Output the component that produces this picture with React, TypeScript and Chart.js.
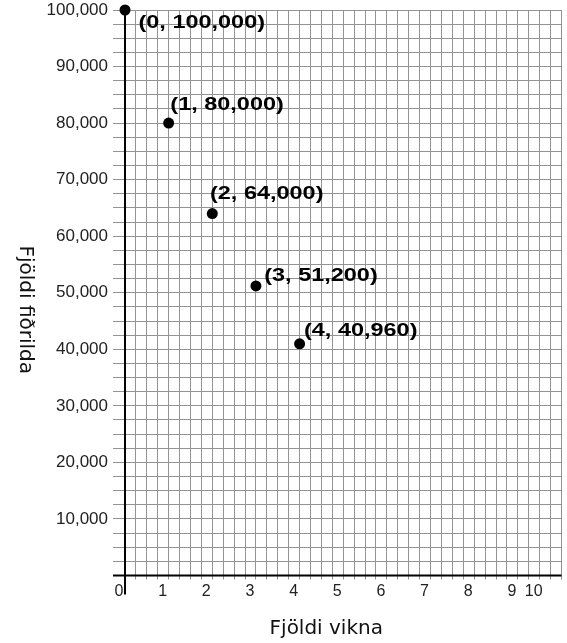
import { useEffect, useRef } from 'react';
import { Chart, registerables } from 'chart.js';

Chart.register(...registerables);

// ---- data ----
const weeks = [0, 1, 2, 3, 4];
const butterflies = [100000, 80000, 64000, 51200, 40960];
const xTickValues = [0, 1, 2, 3, 4, 5, 6, 7, 8, 9, 9.5];
const xTickLabels = ['0', '1', '2', '3', '4', '5', '6', '7', '8', '9', '10'];
const yLabelStep = 10000;
const xTitle = 'Fjöldi vikna';
const yTitle = 'Fjöldi fiðrilda';

// label placement (dx from dot to label start, dy from dot to baseline)
const labelOffsets: [number, number][] = [
  [13.5, 18],
  [1.7, -13],
  [-2.3, -15],
  [8.3, -5],
  [4.4, -7.5],
];

const GRID = '#939393';

const decorPlugin = {
  id: 'decor',
  beforeDatasetsDraw(chart: any) {
    const { ctx, chartArea } = chart;
    const xs = chart.scales.x;
    const ys = chart.scales.y;
    const x0 = xs.getPixelForValue(0);
    const y0 = ys.getPixelForValue(0);
    ctx.save();
    ctx.strokeStyle = '#000';
    ctx.lineWidth = 2;
    ctx.beginPath();
    ctx.moveTo(x0, chartArea.top);
    ctx.lineTo(x0, chartArea.bottom + 19);
    ctx.moveTo(chartArea.left - 12, y0);
    ctx.lineTo(chartArea.right, y0);
    ctx.stroke();

    ctx.fillStyle = '#111';
    ctx.font = '20px "DejaVu Sans"';
    ctx.textAlign = 'center';
    ctx.textBaseline = 'alphabetic';
    ctx.fillText(xTitle, (chartArea.left + chartArea.right) / 2 - 17, chartArea.bottom + 58.5);
    ctx.translate(ys.left + 20, (chartArea.top + chartArea.bottom) / 2 + 17);
    ctx.rotate(Math.PI / 2);
    ctx.fillText(yTitle, 0, 0);
    ctx.restore();
  },
  afterDatasetsDraw(chart: any) {
    const { ctx } = chart;
    const meta = chart.getDatasetMeta(0);
    ctx.save();
    ctx.fillStyle = '#000';
    ctx.font = 'bold 19px "Liberation Sans"';
    ctx.textAlign = 'left';
    ctx.textBaseline = 'alphabetic';
    meta.data.forEach((pt: any, i: number) => {
      const text = `(${weeks[i]}, ${butterflies[i].toLocaleString('en-US')})`;
      const off = labelOffsets[i] || [5, -8];
      ctx.save();
      ctx.translate(pt.x + off[0], pt.y + off[1]);
      ctx.scale(1.235, 1);
      ctx.fillText(text, 0, 0);
      ctx.restore();
    });
    ctx.restore();
  },
};

export default function App() {
  const canvasRef = useRef<HTMLCanvasElement | null>(null);

  useEffect(() => {
    if (!canvasRef.current) return;
    const chart = new Chart(canvasRef.current, {
      type: 'scatter',
      data: {
        datasets: [
          {
            data: weeks.map((w, i) => ({ x: w, y: butterflies[i] })),
            pointRadius: 5.5,
            pointHoverRadius: 5.5,
            backgroundColor: '#000',
            borderWidth: 0,
            clip: false,
          } as any,
        ],
      },
      options: {
        animation: false,
        responsive: true,
        maintainAspectRatio: false,
        events: [],
        layout: { padding: { top: 10, left: 0, right: 0, bottom: 0 } },
        plugins: {
          legend: { display: false },
          tooltip: { enabled: false },
        },
        scales: {
          x: {
            type: 'linear',
            min: 0,
            max: 10,
            afterBuildTicks(scale: any) {
              const t = [];
              for (let i = 0; i <= 40; i++) t.push({ value: i * 0.25 });
              scale.ticks = t;
            },
            afterFit(scale: any) {
              scale.height = 67.5;
              scale.paddingLeft = 0;
              scale.paddingRight = 0;
            },
            grid: { color: GRID, lineWidth: 1, tickLength: 4, drawTicks: true },
            border: { display: false },
            ticks: {
              autoSkip: false,
              maxRotation: 0,
              minRotation: 0,
              labelOffset: -6,
              padding: 2,
              color: '#222',
              font: { family: 'Liberation Sans', size: 16 },
              callback(v: any) {
                const i = xTickValues.indexOf(Number(v));
                return i >= 0 ? xTickLabels[i] : '';
              },
            },
          },
          y: {
            type: 'linear',
            min: 0,
            max: 100000,
            afterBuildTicks(scale: any) {
              const t = [];
              for (let i = 0; i <= 40; i++) t.push({ value: i * 2500 });
              scale.ticks = t;
            },
            afterFit(scale: any) {
              scale.width = 125;
              scale.paddingTop = 0;
              scale.paddingBottom = 0;
            },
            grid: { color: GRID, lineWidth: 1, tickLength: 12, drawTicks: true },
            border: { display: false },
            ticks: {
              autoSkip: false,
              padding: 5,
              color: '#222',
              font: { family: 'Liberation Sans', size: 17 },
              callback(v: any) {
                const n = Number(v);
                return n % yLabelStep === 0 && n !== 0 ? n.toLocaleString('en-US') : '';
              },
            },
          },
        },
      },
      plugins: [decorPlugin],
    });
    return () => chart.destroy();
  }, []);

  return (
    <div style={{ position: 'absolute', left: 0, top: 0, width: 567, height: 643 }}>
      <canvas ref={canvasRef} />
    </div>
  );
}
